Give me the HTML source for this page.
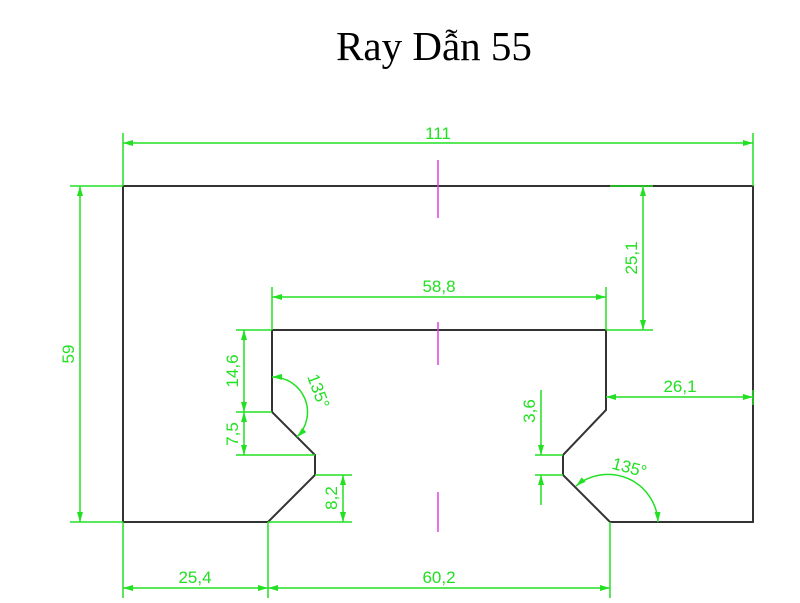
<!DOCTYPE html>
<html><head><style>body{margin:0;background:#fff}svg{display:block}</style></head><body>
<svg width="800" height="603" viewBox="0 0 800 603" xmlns="http://www.w3.org/2000/svg">
<defs><marker id="a" viewBox="0 0 10 6" refX="10" refY="3" markerWidth="10" markerHeight="6" orient="auto-start-reverse" markerUnits="userSpaceOnUse"><path d="M0,0L10,3L0,6z" fill="#22e022"/></marker></defs>
<text x="434" y="60" font-family="Liberation Serif, serif" font-size="41" text-anchor="middle" fill="#000">Ray Dẫn 55</text>
<g stroke="#333" stroke-width="2" fill="none">
<path d="M123,186H753V522H610L563,475V455L606,410V330H272V412L315,455V475L268,522H123Z"/>
</g>
<g stroke="#e040e0" stroke-width="1.5"><line x1="438" y1="160" x2="438" y2="218"/><line x1="438" y1="322" x2="438" y2="365"/><line x1="438" y1="492" x2="438" y2="532"/></g>
<g stroke="#22e022" stroke-width="1.5" fill="none">
<line x1="123" y1="133" x2="123" y2="186"/><line x1="753" y1="133" x2="753" y2="186"/>
<line x1="123" y1="143" x2="753" y2="143" marker-start="url(#a)" marker-end="url(#a)"/>
<line x1="70" y1="186" x2="123" y2="186"/><line x1="70" y1="522" x2="123" y2="522"/>
<line x1="80" y1="186" x2="80" y2="522" marker-start="url(#a)" marker-end="url(#a)"/>
<line x1="610" y1="186" x2="653" y2="186"/><line x1="606" y1="330" x2="653" y2="330"/>
<line x1="643" y1="186" x2="643" y2="330" marker-start="url(#a)" marker-end="url(#a)"/>
<line x1="272" y1="287" x2="272" y2="330"/><line x1="606" y1="287" x2="606" y2="330"/>
<line x1="272" y1="297" x2="606" y2="297" marker-start="url(#a)" marker-end="url(#a)"/>
<line x1="606" y1="397" x2="753" y2="397" marker-start="url(#a)" marker-end="url(#a)"/>
<line x1="753" y1="390" x2="753" y2="405"/>
<line x1="123" y1="522" x2="123" y2="598"/><line x1="268" y1="522" x2="268" y2="598"/><line x1="610" y1="522" x2="610" y2="598"/>
<line x1="123" y1="588" x2="268" y2="588" marker-start="url(#a)" marker-end="url(#a)"/>
<line x1="268" y1="588" x2="610" y2="588" marker-start="url(#a)" marker-end="url(#a)"/>
<line x1="236" y1="330" x2="272" y2="330"/><line x1="236" y1="412" x2="272" y2="412"/><line x1="236" y1="455" x2="315" y2="455"/>
<line x1="244" y1="330" x2="244" y2="412" marker-start="url(#a)" marker-end="url(#a)"/>
<line x1="244" y1="412" x2="244" y2="455" marker-start="url(#a)" marker-end="url(#a)"/>
<line x1="315" y1="475" x2="352" y2="475"/><line x1="268" y1="522" x2="352" y2="522"/>
<line x1="343" y1="475" x2="343" y2="522" marker-start="url(#a)" marker-end="url(#a)"/>
<line x1="535" y1="455" x2="563" y2="455"/><line x1="535" y1="475" x2="563" y2="475"/>
<line x1="541" y1="390" x2="541" y2="455" marker-end="url(#a)"/>
<line x1="541" y1="505" x2="541" y2="475" marker-end="url(#a)"/>
<path d="M272,377 A35,35 0 0 1 297,437" marker-start="url(#a)" marker-end="url(#a)"/>
<path d="M576,486 A50,50 0 0 1 658,522" marker-start="url(#a)" marker-end="url(#a)"/>
</g>
<g fill="#22e022" font-family="Liberation Sans, sans-serif" font-size="17">
<text x="438" y="139" text-anchor="middle">111</text>
<text transform="translate(74,354) rotate(-90)" text-anchor="middle">59</text>
<text transform="translate(637,258) rotate(-90)" text-anchor="middle">25,1</text>
<text x="439" y="292" text-anchor="middle">58,8</text>
<text x="680" y="392" text-anchor="middle">26,1</text>
<text x="195" y="583" text-anchor="middle">25,4</text>
<text x="439" y="583" text-anchor="middle">60,2</text>
<text transform="translate(238,371) rotate(-90)" text-anchor="middle">14,6</text>
<text transform="translate(238,434) rotate(-90)" text-anchor="middle">7,5</text>
<text transform="translate(337,498) rotate(-90)" text-anchor="middle">8,2</text>
<text transform="translate(535,411) rotate(-90)" text-anchor="middle">3,6</text>
<text transform="translate(313,393) rotate(70)" text-anchor="middle">135°</text>
<text transform="translate(628,473) rotate(15)" text-anchor="middle">135°</text>
</g>
</svg>
</body></html>
